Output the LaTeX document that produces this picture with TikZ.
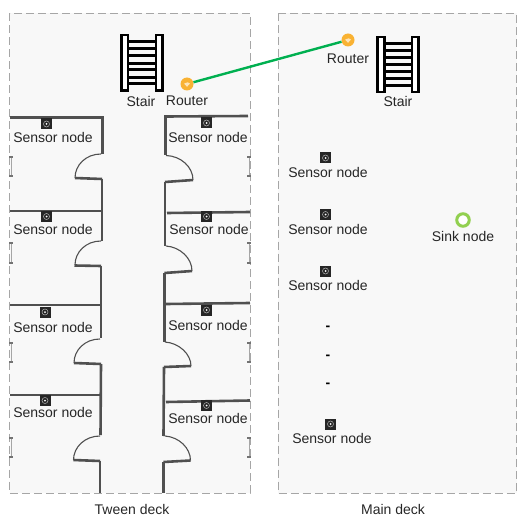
\documentclass[tikz,border=0pt]{standalone}
\usepackage{fontspec}
\setmainfont{Liberation Sans}
\usepackage{xcolor}
\usetikzlibrary{arrows.meta, positioning, calc}
\definecolor{deckfill}{HTML}{F8F8F8}
\definecolor{deckline}{HTML}{A6A6A6}
\definecolor{wallline}{HTML}{505050}
\definecolor{routerorange}{HTML}{F9B233}
\definecolor{linkgreen}{HTML}{00B050}
\definecolor{sinkgreen}{HTML}{92D050}
\begin{document}
\begin{tikzpicture}[
    x=1pt, y=-1pt,
    font=\fontsize{14}{16}\selectfont,
    deck/.style={draw=deckline, fill=deckfill, line width=1pt, dash pattern=on 8pt off 4pt},
    wall/.style={draw=wallline, line width=2.6pt, line join=miter},
    leaf/.style={draw=wallline, line width=1.1pt},
    window/.style={draw=deckline, line width=0.8pt},
    windowtick/.style={draw=black!55, line width=2pt},
    teks/.style={text=black!85, inner sep=0pt, align=center},
    titik/.style={text=black, inner sep=0pt, font=\fontsize{14}{16}\selectfont\bfseries},
    sensor/.style={fill=black!85, minimum size=11pt, inner sep=0pt,
      path picture={
        \draw[white!70!black, line width=0.5pt] (path picture bounding box.center) circle (3pt);
        \fill[white] (path picture bounding box.center) circle (1pt);}},
    router/.style={circle, fill=routerorange, minimum size=13pt, inner sep=0pt,
      path picture={
        \fill[white!65!routerorange] ($(path picture bounding box.center)+(0,2.8)$)
          -- ++(-2.9,-3.2) arc[start angle=140, end angle=40, radius=3.8pt] -- cycle;}},
    sink/.style={circle, draw=sinkgreen, fill=white, line width=3pt, minimum size=12.5pt, inner sep=0pt},
    rail/.style={draw=black, fill=white, line width=2.8pt},
    rung/.style={draw=black, line width=3pt}
  ]
    \useasboundingbox (0,0) rectangle (517,516);

    % decks
    \draw[deck] (9.5,13.5) rectangle (250,493);
    \draw[deck] (278,13.5) rectangle (516.5,493);

    % tween deck, left cabins
    \draw[wall] (10,117.5) -- (102.5,117.5) -- (102.5,154);
    \draw[wall] (102,179) -- (75,178);
    \draw[wall] (102,179) -- (102,241);
    \draw[wall] (10,211) -- (101,211);
    \draw[wall] (101,266) -- (74.5,265.5);
    \draw[wall] (101,266) -- (101,338);
    \draw[wall] (10,305) -- (100,305);
    \draw[wall] (101,364) -- (74,363);
    \draw[wall] (101,364) -- (100.5,435);
    \draw[wall] (10,395) -- (100,395);
    \draw[wall] (100,461) -- (73.5,460);
    \draw[wall] (100,461) -- (100,493);
    \draw[leaf] (101,154) .. controls (86,154) and (75,165) .. (75,178);
    \draw[leaf] (101,241) .. controls (86,241) and (75,252) .. (75,265);
    \draw[leaf] (100,339) .. controls (85,339) and (74,350) .. (74,363);
    \draw[leaf] (100,436) .. controls (85,436) and (73.5,447) .. (73.5,460);

    % tween deck, right cabins
    \draw[wall] (248,116) -- (165.5,116.5) -- (165.5,155);
    \draw[wall] (165,182) -- (193,180);
    \draw[wall] (165,182) -- (165,246);
    \draw[wall] (167,213) -- (250,212);
    \draw[wall] (164.5,273) -- (192,271);
    \draw[wall] (164.5,273) -- (164.5,342);
    \draw[wall] (166,304) -- (250,303);
    \draw[wall] (164,367) -- (191,366);
    \draw[wall] (164,367) -- (163.5,436);
    \draw[wall] (166,402) -- (250,400.5);
    \draw[wall] (163.5,462) -- (190.5,460.5);
    \draw[wall] (163.5,462) -- (163.5,493);
    \draw[leaf] (166,155.5) .. controls (181,156) and (193,167) .. (193,180);
    \draw[leaf] (166,246) .. controls (180,247) and (192,258) .. (192,271);
    \draw[leaf] (165,342) .. controls (179,343) and (191,354) .. (191,366);
    \draw[leaf] (165,436) .. controls (179,437) and (190.5,448) .. (190.5,460.5);

    % windows
    \draw[window] (11,157) -- (11,176) (11,243) -- (11,263) (11,343) -- (11,362) (11,438) -- (11,457);
    \draw[window] (249,157) -- (249,176) (249,243) -- (249,263) (249,343) -- (249,362) (249,438) -- (249,457);
    \draw[windowtick] (9,157) -- (13,157) (9,176) -- (13,176) (9,243) -- (13,243) (9,263) -- (13,263)
      (9,343) -- (13,343) (9,362) -- (13,362) (9,438) -- (13,438) (9,457) -- (13,457);
    \draw[windowtick] (247,157) -- (251,157) (247,176) -- (251,176) (247,243) -- (251,243) (247,263) -- (251,263)
      (247,343) -- (251,343) (247,362) -- (251,362) (247,438) -- (251,438) (247,457) -- (251,457);

    % stairs
    \draw[rung] (128,41.7) -- (156,41.7) (128,49) -- (156,49) (128,56) -- (156,56)
      (128,63.3) -- (156,63.3) (128,70) -- (156,70) (128,77.3) -- (156,77.3) (128,84) -- (156,84);
    \draw[rail] (121.4,35) rectangle (128,90.6);
    \draw[rail] (156,35) rectangle (162.6,90.6);
    \draw[rung] (385,43.5) -- (413,43.5) (385,50.8) -- (413,50.8) (385,57.8) -- (413,57.8)
      (385,65) -- (413,65) (385,71.8) -- (413,71.8) (385,79) -- (413,79) (385,85.8) -- (413,85.8);
    \draw[rail] (377.4,37) rectangle (384.2,92);
    \draw[rail] (412,37) rectangle (418.6,92);
    \node[teks] (stairA) at (141,101) {Stair};
    \node[teks] (stairB) at (398,101) {Stair};

    % routers
    \node[router] (routerA) at (187,84) {};
    \node[router] (routerB) at (348,40) {};
    \draw[linkgreen, line width=2.4pt] (routerA) -- (routerB);
    \node[teks] (routerlabelA) at (187,101) {Router};
    \node[teks] (routerlabelB) at (348,59) {Router};

    % sensors left cabins
    \node[sensor] (sensorA) at (46.5,124) {};
    \node[teks] (labelA) at (53,137) {Sensor node};
    \node[sensor] (sensorB) at (46.5,216.5) {};
    \node[teks] (labelB) at (53,229) {Sensor node};
    \node[sensor] (sensorC) at (45,312) {};
    \node[teks] (labelC) at (53,327) {Sensor node};
    \node[sensor] (sensorD) at (45,400.5) {};
    \node[teks] (labelD) at (53,412) {Sensor node};

    % sensors right cabins
    \node[sensor] (sensorE) at (206.5,123) {};
    \node[teks] (labelE) at (208,137) {Sensor node};
    \node[sensor] (sensorF) at (206.5,216.5) {};
    \node[teks] (labelF) at (209,229.5) {Sensor node};
    \node[sensor] (sensorG) at (206.5,310) {};
    \node[teks] (labelG) at (208,325) {Sensor node};
    \node[sensor] (sensorH) at (206.5,405.5) {};
    \node[teks] (labelH) at (208,418) {Sensor node};

    % main deck
    \node[sensor] (sensorI) at (325.5,158) {};
    \node[teks] (labelI) at (328,172) {Sensor node};
    \node[sensor] (sensorJ) at (325.5,214.5) {};
    \node[teks] (labelJ) at (328,229) {Sensor node};
    \node[sensor] (sensorK) at (325.5,271) {};
    \node[teks] (labelK) at (328,285) {Sensor node};
    \node[titik] (dotA) at (328,328) {-};
    \node[titik] (dotB) at (328,357) {-};
    \node[titik] (dotC) at (328,385.5) {-};
    \node[sensor] (sensorL) at (330.5,424) {};
    \node[teks] (labelL) at (332,438) {Sensor node};
    \node[sink] (sinkA) at (463,220) {};
    \node[teks] (sinklabel) at (463,236) {Sink node};

    % captions
    \node[teks] (tween) at (132,509.5) {Tween deck};
    \node[teks] (main) at (393,509.5) {Main deck};
  \end{tikzpicture}
\end{document}
